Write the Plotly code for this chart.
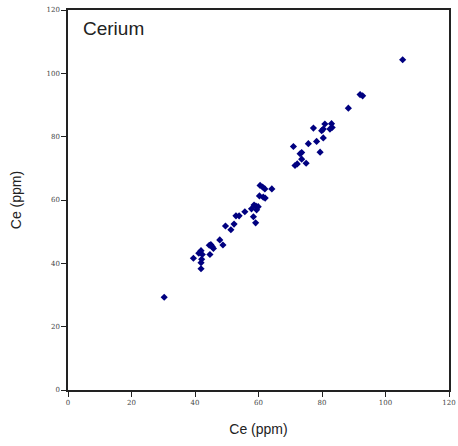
import plotly.graph_objects as go

ce_x = [30.3, 39.5, 41.2, 41.9, 42.3, 42.1, 41.9, 41.9, 44.5, 45.0, 45.4, 45.8, 44.7,
        47.8, 48.8, 49.6, 51.3, 52.3, 52.9, 53.9, 55.7, 57.8, 58.6, 59.2, 59.9, 59.4,
        58.4, 59.1, 60.3, 60.5, 61.3, 62.0, 61.5, 62.1, 64.2, 71.0, 71.5, 72.2, 73.6,
        73.1, 73.6, 75.0, 75.7, 77.3, 78.3, 79.4, 79.9, 80.4, 80.4, 80.9, 82.5, 83.2,
        83.0, 88.3, 92.0, 92.8, 105.4]
ce_y = [29.3, 41.6, 43.2, 44.0, 42.8, 41.3, 40.2, 38.3, 45.7, 45.9, 45.3, 44.7, 42.8,
        47.4, 45.8, 51.8, 50.6, 52.4, 55.0, 55.0, 56.3, 57.2, 58.4, 58.1, 57.9, 56.9,
        54.7, 52.8, 61.3, 64.6, 64.1, 63.5, 60.9, 60.6, 63.5, 76.9, 70.9, 71.4, 72.9,
        74.6, 75.0, 71.6, 77.8, 82.7, 78.5, 75.1, 81.9, 79.6, 82.4, 84.0, 82.4, 82.9,
        84.1, 89.0, 93.3, 92.9, 104.3]
tick_vals = [0, 20, 40, 60, 80, 100, 120]

fig = go.Figure()
fig.add_trace(go.Scatter(x=ce_x, y=ce_y, mode="markers",
                         marker=dict(symbol="diamond", size=5.5, color="#000080",
                                     line=dict(width=0))))

axis_common = dict(range=[0, 120], tickvals=tick_vals, ticks="outside", ticklen=5,
                   tickwidth=1, tickcolor="#222", showline=True, linecolor="#222",
                   linewidth=1.5, mirror=True, showgrid=False, zeroline=False,
                   automargin=False,
                   tickfont=dict(family="DejaVu Serif", size=7, color="#444"))

fig.update_layout(
    width=458, height=446,
    margin=dict(l=68, r=9, t=10, b=56),
    paper_bgcolor="white", plot_bgcolor="white",
    showlegend=False,
    xaxis=dict(**axis_common, title=dict(text="Ce (ppm)", standoff=18,
               font=dict(family="Liberation Sans", size=14, color="#222"))),
    yaxis=dict(**axis_common, title=dict(text="Ce (ppm)", standoff=22,
               font=dict(family="Liberation Sans", size=14, color="#222"))),
    annotations=[dict(text="Cerium", x=0.035, y=0.985, xref="paper", yref="paper",
                      xanchor="left", yanchor="top", showarrow=False,
                      font=dict(family="Liberation Sans", size=19, color="#222"))],
)

fig.write_html("out.html")
